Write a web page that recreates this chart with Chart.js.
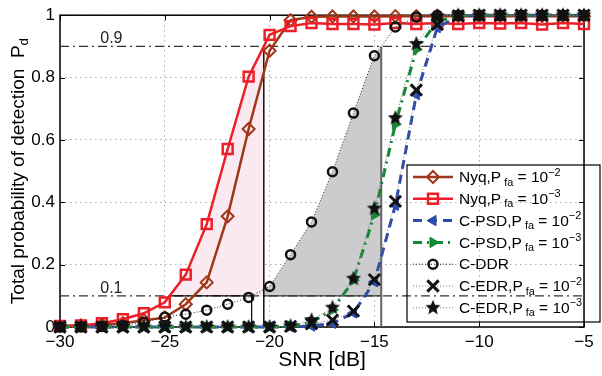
<!DOCTYPE html>
<html>
<head>
<meta charset="utf-8">
<script src="https://cdn.jsdelivr.net/npm/chart.js@4.4.1/dist/chart.umd.min.js"></script>
<style>
  html, body { margin: 0; padding: 0; background: #fff; }
</style>
</head>
<body>
<canvas id="chart" width="602" height="376"></canvas>
<script>
// SNR grid, one point per dB
const snr = [-30,-29,-28,-27,-26,-25,-24,-23,-22,-21,-20,-19,-18,-17,-16,-15,-14,-13,-12,-11,-10,-9,-8,-7,-6,-5];

// detection probability
const nyq2 = [0.003,0.005,0.008,0.012,0.022,0.030,0.073,0.143,0.355,0.635,0.886,0.984,0.995,0.996,0.996,0.996,0.997,0.997,0.997,0.997,0.997,0.997,0.997,0.997,0.997,0.997];
const nyq3 = [0.003,0.005,0.012,0.025,0.044,0.079,0.168,0.330,0.571,0.803,0.937,0.965,0.975,0.972,0.972,0.970,0.975,0.972,0.975,0.972,0.975,0.973,0.975,0.970,0.975,0.972];
const psd2 = [0,0,0,0,0,0,0,0,0,0,0,0,0.003,0.012,0.045,0.145,0.390,0.745,0.960,0.997,1,1,1,1,1,1];
const psd3 = [0,0,0,0,0,0,0,0,0,0,0,0.003,0.015,0.055,0.150,0.360,0.650,0.890,0.980,0.998,1,1,1,1,1,1];
const ddr  = [0,0,0.002,0.005,0.015,0.032,0.041,0.054,0.073,0.095,0.130,0.232,0.337,0.498,0.686,0.870,0.962,0.994,1,1,1,1,1,1,1,1];
const edr2 = [0,0,0,0,0,0,0,0,0,0,0,0.002,0.010,0.022,0.051,0.152,0.403,0.760,0.970,0.998,1,1,1,1,1,1];
const edr3 = [0,0,0,0,0,0,0,0,0,0,0,0.003,0.022,0.062,0.155,0.380,0.670,0.908,0.997,1,1,1,1,1,1,1];

const xTicks = [-30,-25,-20,-15,-10,-5];
const yTicks = [0,0.2,0.4,0.6,0.8,1];
const levels = [0.1, 0.9];

const legendLabels = [
  'Nyq,P_{ fa} = 10^{\u22122}',
  'Nyq,P_{ fa} = 10^{\u22123}',
  'C-PSD,P_{ fa} = 10^{\u22122}',
  'C-PSD,P_{ fa} = 10^{\u22123}',
  'C-DDR',
  'C-EDR,P_{ fa} = 10^{\u22122}',
  'C-EDR,P_{ fa} = 10^{\u22123}'
];

const FONT = "'Liberation Sans', Arial, Helvetica, sans-serif";
Chart.defaults.font.family = FONT;
Chart.defaults.color = '#000';

const xy = ys => ys.map((v, i) => ({x: snr[i], y: v}));

// where a curve first climbs through a level (linear between points)
function crossAt(ys, level) {
  for (let i = 1; i < ys.length; i++) {
    if (ys[i-1] < level && ys[i] >= level) {
      return snr[i-1] + (level - ys[i-1]) / (ys[i] - ys[i-1]) * (snr[i] - snr[i-1]);
    }
  }
  return null;
}

// region right of a curve between the 0.1 and 0.9 levels
function band(ys) {
  const a = crossAt(ys, 0.1), b = crossAt(ys, 0.9);
  const pts = [{x: a, y: 0.1}];
  ys.forEach((v, i) => { if (v > 0.1 && v < 0.9) pts.push({x: snr[i], y: v}); });
  pts.push({x: b, y: 0.9}, {x: b, y: 0.1});
  return pts;
}

const red01 = crossAt(nyq3, 0.1), red09 = crossAt(nyq3, 0.9);
const ddr01 = crossAt(ddr, 0.1),  ddr09 = crossAt(ddr, 0.9);

function makeStar(r, color) {
  const c = document.createElement('canvas');
  c.width = c.height = 2 * r + 2;
  const g = c.getContext('2d');
  g.beginPath();
  for (let i = 0; i < 10; i++) {
    const ang = -Math.PI / 2 + i * Math.PI / 5;
    const rr = i % 2 ? r * 0.45 : r;
    g.lineTo(r + 1 + rr * Math.cos(ang), r + 1 + rr * Math.sin(ang));
  }
  g.closePath();
  g.fillStyle = color;
  g.fill();
  return c;
}
const starImg = makeStar(8, '#111');

const BROWN = 'rgb(160,55,25)';
const RED = 'rgb(238,30,40)';
const BLUE = 'rgb(45,75,170)';
const GREEN = 'rgb(20,135,50)';
const NONE = 'rgba(0,0,0,0)';

const helper = (data, style) => Object.assign({
  data, showLine: true, pointRadius: 0, pointHoverRadius: 0, clip: false, inLegend: false
}, style);

const curve = (label, ys, style) => Object.assign({
  label, data: xy(ys), showLine: true, clip: false, inLegend: true, pointHoverRadius: 0
}, style);

const datasets = [
  helper(band(ddr),  {order: 31, fill: 'shape', backgroundColor: 'rgb(204,204,207)', borderWidth: 0}),
  helper(band(nyq3), {order: 30, fill: 'shape', backgroundColor: 'rgb(251,233,241)', borderWidth: 0}),
  helper([{x: -30, y: 0.9}, {x: -5, y: 0.9}], {order: 20, borderColor: '#333', borderWidth: 1.2, borderDash: [9, 4, 2, 4]}),
  helper([{x: -30, y: 0.1}, {x: -5, y: 0.1}], {order: 20, borderColor: '#333', borderWidth: 1.2, borderDash: [9, 4, 2, 4]}),
  helper([{x: red01, y: 0.1}, {x: ddr01, y: 0.1}, {x: ddr01, y: 0}], {order: 19, borderColor: '#000', borderWidth: 1.2}),
  helper([{x: red09, y: 0.9}, {x: red09, y: 0}], {order: 19, borderColor: '#000', borderWidth: 1.4}),
  helper([{x: red09, y: 0.1}, {x: ddr09, y: 0.1}], {order: 19, borderColor: '#333', borderWidth: 1.2}),
  helper([{x: ddr09, y: 0.9}, {x: ddr09, y: 0}], {order: 19, borderColor: '#666', borderWidth: 2}),

  curve(legendLabels[0], nyq2, {order: 7, borderColor: BROWN, borderWidth: 2.5,
    pointStyle: 'rectRot', pointRadius: 6, pointBorderWidth: 2, pointBorderColor: BROWN, pointBackgroundColor: NONE}),
  curve(legendLabels[1], nyq3, {order: 6, borderColor: RED, borderWidth: 2.5,
    pointStyle: 'rect', pointRadius: 7, pointBorderWidth: 2.5, pointBorderColor: RED, pointBackgroundColor: NONE}),
  curve(legendLabels[2], psd2, {order: 5, borderColor: BLUE, borderWidth: 3, borderDash: [9, 6],
    pointStyle: 'triangle', pointRotation: 270, pointRadius: 6, pointBorderWidth: 1, pointBorderColor: BLUE, pointBackgroundColor: BLUE}),
  curve(legendLabels[3], psd3, {order: 4, borderColor: GREEN, borderWidth: 3, borderDash: [9, 5, 2, 5],
    pointStyle: 'triangle', pointRotation: 90, pointRadius: 6, pointBorderWidth: 1, pointBorderColor: GREEN, pointBackgroundColor: GREEN}),
  curve(legendLabels[4], ddr, {order: 3, borderColor: '#222', borderWidth: 1, borderDash: [1, 2],
    pointStyle: 'circle', pointRadius: 4.5, pointBorderWidth: 2.5, pointBorderColor: '#111', pointBackgroundColor: NONE}),
  curve(legendLabels[5], edr2, {order: 2, borderColor: '#777', borderWidth: 1, borderDash: [1, 2],
    pointStyle: 'crossRot', pointRadius: 8, pointBorderWidth: 3, pointBorderColor: '#111', pointBackgroundColor: '#111'}),
  curve(legendLabels[6], edr3, {order: 1, borderColor: '#777', borderWidth: 1, borderDash: [1, 2],
    pointStyle: starImg, pointRadius: 8, pointBorderColor: '#111', pointBackgroundColor: '#111'})
];

// text with _{sub} and ^{sup} parts
function richParts(str) {
  const parts = [];
  const re = /(_|\^)\{([^}]*)\}|([^_^]+)/g;
  let m;
  while ((m = re.exec(str))) {
    if (m[3]) parts.push({t: m[3], k: 'n'});
    else parts.push({t: m[2], k: m[1] === '_' ? 'sub' : 'sup'});
  }
  return parts;
}
function drawRich(ctx, str, x, y, size, align) {
  const parts = richParts(str);
  const small = size * 0.7;
  let w = 0;
  parts.forEach(p => { ctx.font = (p.k === 'n' ? size : small) + 'px ' + FONT; p.w = ctx.measureText(p.t).width; w += p.w; });
  let cx = align === 'center' ? x - w / 2 : x;
  ctx.textBaseline = 'middle';
  ctx.textAlign = 'left';
  parts.forEach(p => {
    ctx.font = (p.k === 'n' ? size : small) + 'px ' + FONT;
    const dy = p.k === 'sub' ? size * 0.3 : p.k === 'sup' ? -size * 0.35 : 0;
    ctx.fillText(p.t, cx, y + dy);
    cx += p.w;
  });
}

const decor = {
  id: 'decor',
  beforeDatasetsDraw(chart) {
    const {ctx, chartArea: a, scales: {x, y}} = chart;
    ctx.save();
    ctx.strokeStyle = '#000';
    ctx.lineWidth = 1;
    ctx.beginPath();
    xTicks.forEach(v => {
      const p = Math.round(x.getPixelForValue(v)) + 0.5;
      ctx.moveTo(p, a.bottom); ctx.lineTo(p, a.bottom - 5);
      ctx.moveTo(p, a.top); ctx.lineTo(p, a.top + 5);
    });
    yTicks.forEach(v => {
      const p = Math.round(y.getPixelForValue(v)) + 0.5;
      ctx.moveTo(a.left, p); ctx.lineTo(a.left + 5, p);
      ctx.moveTo(a.right, p); ctx.lineTo(a.right - 5, p);
    });
    ctx.stroke();
    ctx.lineWidth = 1.5;
    ctx.strokeRect(a.left, a.top, a.width, a.height);
    ctx.restore();
  },
  afterDraw(chart) {
    const {ctx, chartArea: a, scales: {x, y}} = chart;
    ctx.save();
    ctx.fillStyle = '#222';
    ctx.font = '16px ' + FONT;
    ctx.textAlign = 'center';
    ctx.textBaseline = 'alphabetic';
    levels.forEach(v => ctx.fillText(String(v), x.getPixelForValue(-27.55), y.getPixelForValue(v) - 3));

    ctx.fillStyle = '#000';
    drawRich(ctx, 'SNR [dB]', (a.left + a.right) / 2, 360, 21, 'center');
    ctx.save();
    ctx.translate(19, (a.top + a.bottom) / 2);
    ctx.rotate(-Math.PI / 2);
    drawRich(ctx, 'Total probability of detection  P_{d}', 0, 0, 19, 'center');
    ctx.restore();

    // legend box
    const lx = 407, ly = 165, lw = 193, lh = 157;
    ctx.strokeStyle = '#000';
    ctx.lineWidth = 1.2;
    ctx.strokeRect(lx, ly, lw, lh);
    const items = chart.data.datasets.filter(d => d.inLegend);
    items.forEach((d, i) => {
      const ry = ly + 12 + i * 21.8;
      ctx.save();
      ctx.strokeStyle = d.borderColor;
      ctx.lineWidth = d.borderWidth;
      ctx.setLineDash(d.borderDash || []);
      ctx.beginPath(); ctx.moveTo(lx + 6, ry); ctx.lineTo(lx + 46, ry); ctx.stroke();
      ctx.setLineDash([]);
      ctx.strokeStyle = d.pointBorderColor;
      ctx.fillStyle = d.pointBackgroundColor;
      ctx.lineWidth = d.pointBorderWidth || 1;
      Chart.helpers.drawPoint(ctx, {pointStyle: d.pointStyle, rotation: d.pointRotation || 0,
        radius: d.pointRadius, borderWidth: d.pointBorderWidth || 1}, lx + 26, ry);
      ctx.restore();
      ctx.fillStyle = '#000';
      drawRich(ctx, d.label, lx + 52, ry + 1, 15.5, 'left');
    });
    ctx.restore();
  }
};

new Chart(document.getElementById('chart'), {
  type: 'scatter',
  data: {datasets},
  options: {
    responsive: false,
    animation: false,
    devicePixelRatio: 1,
    layout: {padding: {top: 12, right: 18, left: 0, bottom: 0}},
    plugins: {legend: {display: false}, tooltip: {enabled: false}},
    scales: {
      x: {
        type: 'linear', min: -30, max: -5,
        afterFit: s => { s.height = 49; },
        ticks: {stepSize: 5, padding: 5, font: {size: 17},
          callback: v => v < 0 ? '\u2212' + Math.abs(v) : String(v)},
        grid: {color: '#aaa', lineWidth: 1, drawTicks: false},
        border: {display: false, dash: [1.5, 3.5]}
      },
      y: {
        type: 'linear', min: 0, max: 1,
        afterFit: s => { s.width = 60; },
        ticks: {stepSize: 0.2, padding: 5, font: {size: 17},
          callback: v => (v === 0 || v === 1) ? String(v) : v.toFixed(1)},
        grid: {color: '#aaa', lineWidth: 1, drawTicks: false},
        border: {display: false, dash: [1.5, 3.5]}
      }
    }
  },
  plugins: [decor]
});
</script>
</body>
</html>
